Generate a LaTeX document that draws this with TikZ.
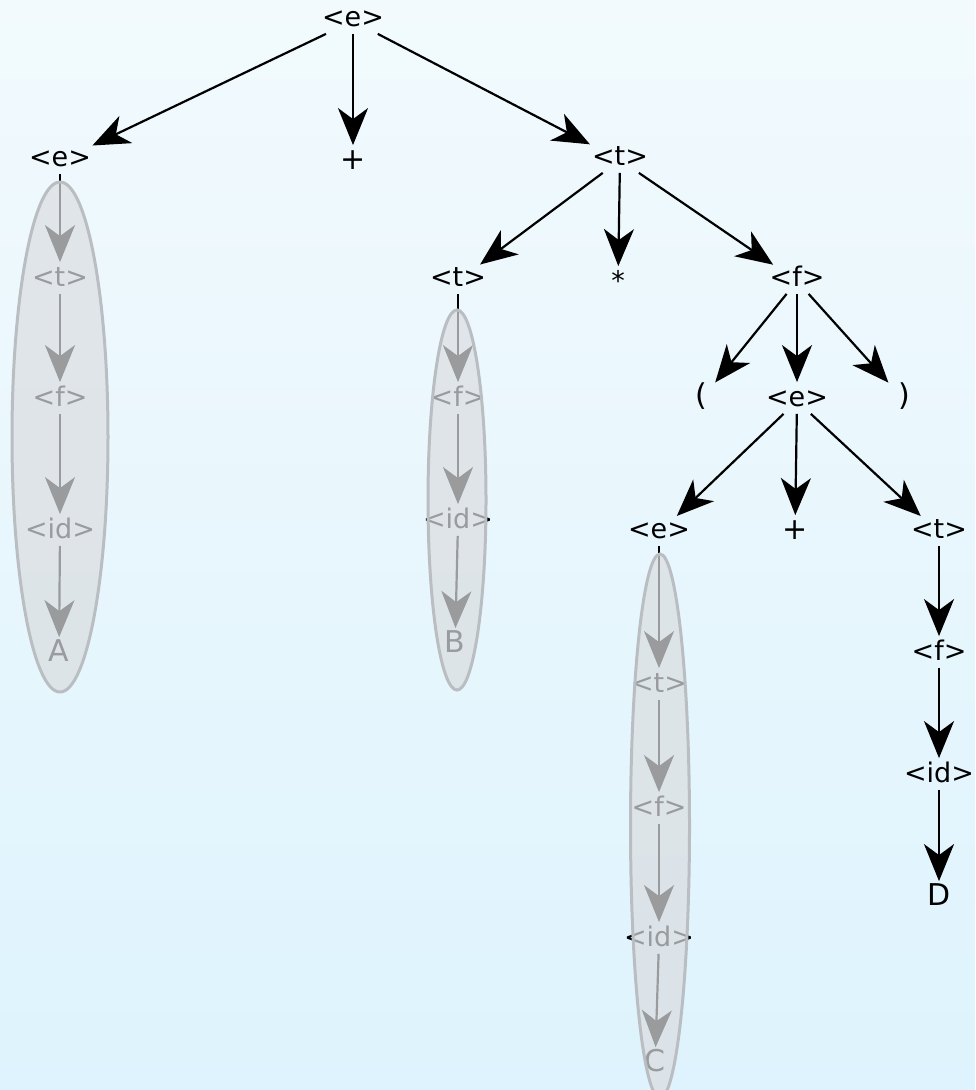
\documentclass[tikz,border=0pt]{standalone}
\usepackage{fontspec}
\setmainfont{DejaVu Sans}
\usepackage{xcolor}
\usetikzlibrary{arrows.meta, positioning}
\definecolor{bgtop}{RGB}{242, 250, 253}
\definecolor{bgbot}{RGB}{222, 243, 253}
\definecolor{lensfill}{RGB}{218, 221, 224}
\definecolor{lensline}{RGB}{186, 190, 194}

\begin{document}
\begin{tikzpicture}[x=0.5pt, y=-0.5pt,
  tok/.style={inner sep=1.5pt, minimum width=30,
    text height=0.73em, text depth=0.22em,
    font=\fontsize{13.5pt}{15pt}\selectfont},
  term/.style={tok, font=\fontsize{15pt}{17pt}\selectfont},
  arr/.style={-{Stealth[length=18.5pt, width=15pt, inset=5.5pt]},
    line width=1.1pt, shorten >=3pt},
  lens/.style={fill=lensfill, fill opacity=0.7,
    draw=lensline, draw opacity=1, line width=1.5pt}
]
\useasboundingbox (0,0) rectangle (975,1090);
\clip (0,0) rectangle (975,1090);
\shade[top color=bgtop, bottom color=bgbot] (0,0) rectangle (975,1090);
% Top levels
\node[tok] at (353, 21) (root) {<e>};
\node[tok] at (60, 161) (e1) {<e>};
\node[term] at (353,164) (plus1) {+};
\node[tok] at (620,160) (t1) {<t>};
\draw[arr] (root) -- (e1);
\draw[arr] (root) -- (plus1);
\draw[arr] (root) -- (t1);
% Left chain (A)
\node[tok] at (60, 281) (ta) {<t>};
\node[tok] at (60, 401) (fa) {<f>};
\node[tok] at (60, 533) (ida) {<id>};
\node[term] at (59, 656) (A) {A};
\draw[arr] (e1) -- (ta);
\draw[arr] (ta) -- (fa);
\draw[arr] (fa) -- (ida);
\draw[arr] (ida) -- (A);
% Under <t>
\node[tok] at (458,281) (t2) {<t>};
\node[tok] at (618,285) (star) {*};
\node[tok] at (797,281) (f1) {<f>};
\draw[arr] (t1) -- (t2);
\draw[arr] (t1) -- (star);
\draw[arr] (t1) -- (f1);
% Middle chain (B)
\node[tok] at (458,401) (fb) {<f>};
\node[tok] at (458,523) (idb) {<id>};
\node[term] at (455,647) (B) {B};
\draw[arr] (t2) -- (fb);
\draw[arr] (fb) -- (idb);
\draw[arr] (idb) -- (B);
% Under <f>
\node[term] at (701,400) (lp) {(};
\node[tok] at (797,401) (e2) {<e>};
\node[term] at (904,400) (rp) {)};
\draw[arr] (f1) -- (lp);
\draw[arr] (f1) -- (e2);
\draw[arr] (f1) -- (rp);
% Under inner <e>
\node[tok] at (659,533) (e3) {<e>};
\node[term] at (795,534) (plus2) {+};
\node[tok] at (939,533) (t3) {<t>};
\draw[arr] (e2) -- (e3);
\draw[arr] (e2) -- (plus2);
\draw[arr] (e2) -- (t3);
% Lower chain (C)
\node[tok] at (659,687) (tc) {<t>};
\node[tok] at (659,811) (fc) {<f>};
\node[tok] at (659,941) (idc) {<id>};
\node[term] at (655,1066) (C) {C};
\draw[arr] (e3) -- (tc);
\draw[arr] (tc) -- (fc);
\draw[arr] (fc) -- (idc);
\draw[arr] (idc) -- (C);
% Right chain (D)
\node[tok] at (939,655) (fd) {<f>};
\node[tok] at (939,777) (idd) {<id>};
\node[term] at (939,900) (D) {D};
\draw[arr] (t3) -- (fd);
\draw[arr] (fd) -- (idd);
\draw[arr] (idd) -- (D);
% Grey lenses over the collapsed chains
\path[lens] (60,437) ellipse [x radius=48, y radius=255];
\path[lens] (457,500) ellipse [x radius=29, y radius=190];
\path[lens] (660,826) ellipse [x radius=29.5, y radius=272];
\end{tikzpicture}
\end{document}
